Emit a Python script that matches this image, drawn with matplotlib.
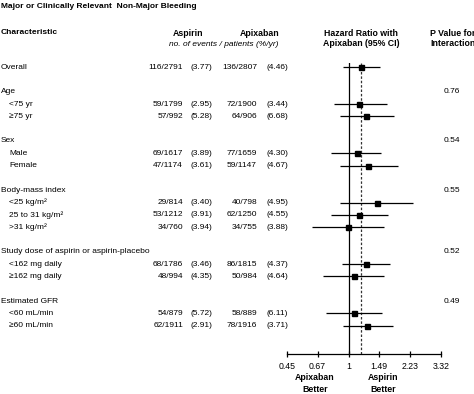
import numpy as np
import matplotlib
matplotlib.use("Agg")
import matplotlib.pyplot as plt
import matplotlib.transforms as mtransforms

plt.rcParams["font.family"] = ["Liberation Sans", "DejaVu Sans"]
plt.rcParams["font.size"] = 6

# overall row
overall_label = "Overall"
overall_counts = ["116/2791", "(3.77)", "136/2807", "(4.46)"]
overall_hr = [1.18, 0.93, 1.50]

# subgroups
groups = ["Age", "Sex", "Body-mass index",
          "Study dose of aspirin or aspirin-placebo", "Estimated GFR"]
p_values = ["0.76", "0.54", "0.55", "0.52", "0.49"]
sub_labels = [["<75 yr", "≥75 yr"],
              ["Male", "Female"],
              ["<25 kg/m²", "25 to 31 kg/m²", ">31 kg/m²"],
              ["<162 mg daily", "≥162 mg daily"],
              ["<60 mL/min", "≥60 mL/min"]]
asp_events = ["59/1799", "57/992", "69/1617", "47/1174", "29/814", "53/1212",
              "34/760", "68/1786", "48/994", "54/879", "62/1911"]
asp_rate = ["(2.95)", "(5.28)", "(3.89)", "(3.61)", "(3.40)", "(3.91)",
            "(3.94)", "(3.46)", "(4.35)", "(5.72)", "(2.91)"]
apx_events = ["72/1900", "64/906", "77/1659", "59/1147", "40/798", "62/1250",
              "34/755", "86/1815", "50/984", "58/889", "78/1916"]
apx_rate = ["(3.44)", "(6.68)", "(4.30)", "(4.67)", "(4.95)", "(4.55)",
            "(3.88)", "(4.37)", "(4.64)", "(6.11)", "(3.71)"]
hr = [1.15, 1.26, 1.11, 1.29, 1.44, 1.15, 0.99, 1.26, 1.07, 1.07, 1.27]
hr_lo = [0.83, 0.89, 0.80, 0.89, 0.90, 0.80, 0.62, 0.92, 0.72, 0.75, 0.93]
hr_hi = [1.64, 1.80, 1.53, 1.90, 2.32, 1.66, 1.59, 1.72, 1.59, 1.55, 1.77]

ticks = [0.45, 0.67, 1, 1.49, 2.23, 3.32]
tick_labels = ["0.45", "0.67", "1", "1.49", "2.23", "3.32"]

W, H = 474, 394
fig = plt.figure(figsize=(W / 100, H / 100), dpi=100)

def px(x):
    return x / W

ax = fig.add_axes([px(287), 1 - 354 / H, px(441 - 287), (354 - 63) / H])
ax.set_xscale("log")
ax.set_xlim(0.45, 3.32)
ax.set_ylim(23.3, -0.33)
for s in ["top", "left", "right"]:
    ax.spines[s].set_visible(False)
ax.spines["bottom"].set_linewidth(0.9)
ax.set_yticks([])
ax.set_xticks(ticks)
ax.set_xticklabels(tick_labels)
ax.xaxis.set_minor_locator(matplotlib.ticker.NullLocator())
ax.tick_params(axis="x", direction="inout", length=4, width=0.9, pad=4, labelsize=6.3)
ax.patch.set_alpha(0)

ax.axvline(1, color="black", lw=0.9)
ax.axvline(overall_hr[0], color="#333333", lw=0.9, ls=(0, (2, 1.5)))

tr = mtransforms.blended_transform_factory(fig.transFigure, ax.transData)

def row_text(x, y, s, **kw):
    fig.text(px(x), y, s, transform=tr, va="center", **kw)

row_text(1, 0, overall_label)
row_text(183, 0, overall_counts[0], ha="right")
row_text(201, 0, overall_counts[1], ha="center")
row_text(257, 0, overall_counts[2], ha="right")
row_text(277.5, 0, overall_counts[3], ha="center")
ys = []
y = 2
for g, pv, subs in zip(groups, p_values, sub_labels):
    row_text(1, y, g)
    row_text(452, y, pv, ha="center")
    y += 1
    for lab in subs:
        row_text(9, y, lab)
        ys.append(y)
        y += 1
    y += 1

for i, yy in enumerate(ys):
    row_text(183, yy, asp_events[i], ha="right")
    row_text(201, yy, asp_rate[i], ha="center")
    row_text(257, yy, apx_events[i], ha="right")
    row_text(277.5, yy, apx_rate[i], ha="center")

all_y = [0] + ys
all_hr = [overall_hr[0]] + hr
all_lo = [overall_hr[1]] + hr_lo
all_hi = [overall_hr[2]] + hr_hi
ax.hlines(all_y, all_lo, all_hi, color="black", lw=0.9, clip_on=False)
ax.plot(all_hr, all_y, "s", color="black", ms=3.6, clip_on=False)

# headers
def head(x, y, s, **kw):
    fig.text(px(x), 1 - y / H, s, va="center", **kw)

head(1, 7, "Major or Clinically Relevant  Non-Major Bleeding", weight="bold", size=6.0)
head(1, 33, "Characteristic", weight="bold", size=6.0)
head(188, 33, "Aspirin", weight="bold", ha="center", size=6.3)
head(259.5, 33, "Apixaban", weight="bold", ha="center", size=6.3)
head(224, 44, "no. of events / patients (%/yr)", style="italic", ha="center")
head(361, 33, "Hazard Ratio with", weight="bold", ha="center", size=6.3)
head(361, 44, "Apixaban (95% CI)", weight="bold", ha="center", size=6.3)
head(430, 33, "P Value for", weight="bold", size=6.3)
head(430, 44, "Interaction", weight="bold", size=6.3)
head(315, 377, "Apixaban", weight="bold", ha="center", size=6.3)
head(315, 390, "Better", weight="bold", ha="center", size=6.3)
head(383, 377, "Aspirin", weight="bold", ha="center", size=6.3)
head(383, 390, "Better", weight="bold", ha="center", size=6.3)

fig.savefig("out.png", dpi=100)
